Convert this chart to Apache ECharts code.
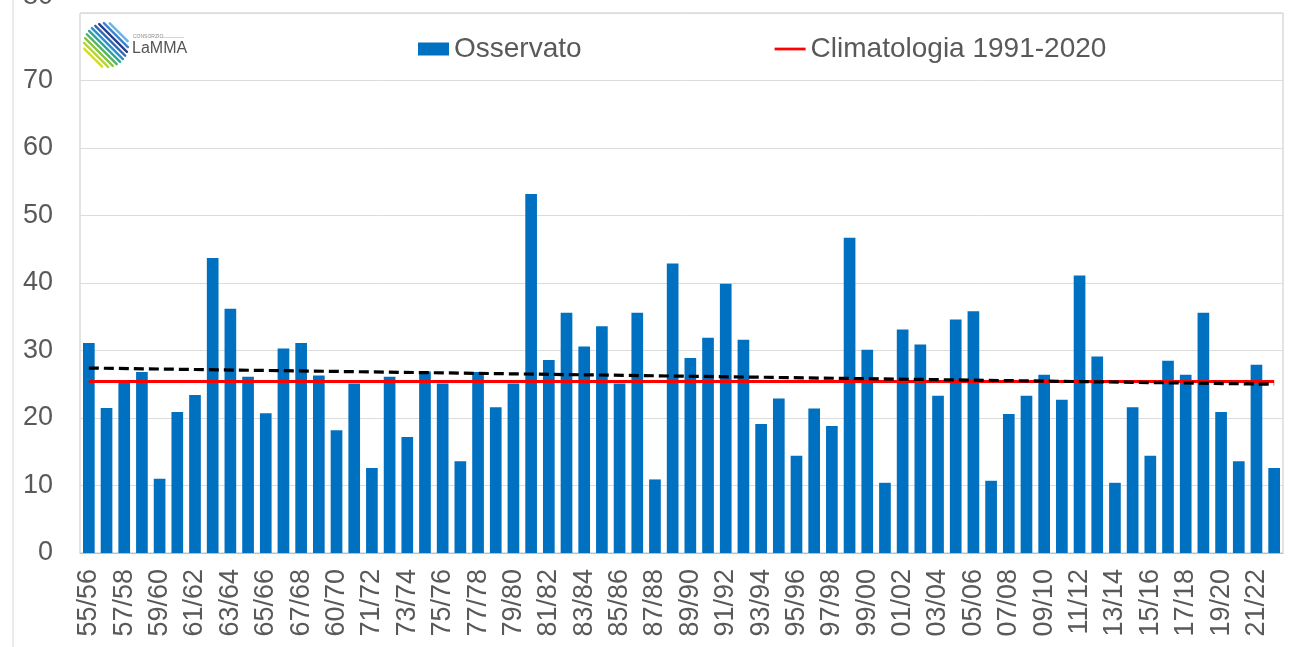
<!DOCTYPE html>
<html>
<head>
<meta charset="utf-8">
<script src="https://cdn.jsdelivr.net/npm/echarts@6/dist/echarts.min.js"></script>
<style>
html,body{margin:0;padding:0;background:#fff;}
#chart{width:1296px;height:647px;}
</style>
</head>
<body>
<div id="chart"></div>
<script>
const categories = ['55/56','56/57','57/58','58/59','59/60','60/61','61/62','62/63','63/64','64/65',
'65/66','66/67','67/68','68/69','60/70','70/71','71/72','72/73','73/74','74/75',
'75/76','76/77','77/78','78/79','79/80','80/81','81/82','82/83','83/84','84/85',
'85/86','86/87','87/88','88/89','89/90','90/91','91/92','92/93','93/94','94/95',
'95/96','96/97','97/98','98/99','99/00','00/01','01/02','02/03','03/04','04/05',
'05/06','06/07','07/08','08/09','09/10','10/11','11/12','12/13','13/14','14/15',
'15/16','16/17','17/18','18/19','19/20','20/21','21/22','22/23'];

const osservato = [31.1,21.5,25.2,26.8,11.0,20.9,23.4,43.7,36.2,26.1,
20.7,30.3,31.1,26.3,18.2,25.1,12.6,26.1,17.2,26.9,
25.1,13.6,26.8,21.6,25.1,53.2,28.6,35.6,30.6,33.6,
25.1,35.6,10.9,42.9,28.9,31.9,39.9,31.6,19.1,22.9,
14.4,21.4,18.8,46.7,30.1,10.4,33.1,30.9,23.3,34.6,
35.8,10.7,20.6,23.3,26.4,22.7,41.1,29.1,10.4,21.6,
14.4,28.5,26.4,35.6,20.9,13.6,27.9,12.6];

const climatologiaValue = 25.4;
const trendStart = 27.4;
const trendEnd = 25.0;

const yTicks = [0,10,20,30,40,50,60,70,80];

const climatologia = categories.map(() => climatologiaValue);
const trend = categories.map((c, i) => i === 0 ? trendStart : (i === categories.length - 1 ? trendEnd : null));

const FONT = 'Liberation Sans, Arial, sans-serif';
const TXT = '#595959';

// logo decoration
const logoChildren = [];
(function(){
  const cx = 106, cy = 45, r = 22;
  const cols = ['#d6dc1e','#b5d334','#86c444','#4fb460','#2ca59a','#2a8fd3','#2f66b0','#283f8c','#3a82d0','#66b6ea'];
  const s = Math.SQRT1_2;
  for (let k = 0; k < 10; k++) {
    const d = -18 + 4 * k;
    const h = Math.sqrt(r * r - d * d);
    const mx = cx + d * s, my = cy - d * s;
    logoChildren.push({
      type: 'line',
      shape: { x1: mx - h * s, y1: my - h * s, x2: mx + h * s, y2: my + h * s },
      style: { stroke: cols[k], lineWidth: 2.4, lineCap: 'round' },
      silent: true
    });
  }
  logoChildren.push({ type: 'text', style: { text: 'CONSORZIO', x: 133, y: 37, font: '5px ' + FONT, fill: '#888', textVerticalAlign: 'middle' }, silent: true });
  logoChildren.push({ type: 'line', shape: { x1: 160, y1: 37.5, x2: 184, y2: 37.5 }, style: { stroke: '#bbb', lineWidth: 0.6 }, silent: true });
  logoChildren.push({ type: 'text', style: { text: 'LaMMA', x: 132, y: 49, font: '16px ' + FONT, fill: '#555', textVerticalAlign: 'middle' }, silent: true });
})();

const chart = echarts.init(document.getElementById('chart'), null, { renderer: 'canvas' });
chart.setOption({
  animation: false,
  backgroundColor: '#ffffff',
  textStyle: { fontFamily: FONT },
  grid: {
    left: 80, right: 13, top: 13, bottom: 94,
    show: true, borderColor: '#c8c8c8', borderWidth: 1, containLabel: false
  },
  legend: {
    data: [
      { name: 'Osservato', icon: 'rect' },
      { name: 'Climatologia 1991-2020', icon: 'path://M0,0H34V3H0Z', itemStyle: { color: '#FF0000' } }
    ],
    left: 418, top: 35, padding: 0,
    itemWidth: 31, itemHeight: 13, itemGap: 193,
    textStyle: { fontSize: 28, color: TXT, fontFamily: FONT }
  },
  graphic: [
    { type: 'line', shape: { x1: 13, y1: 0, x2: 13, y2: 647 }, style: { stroke: '#d6d6d6', lineWidth: 1 }, silent: true },
    { type: 'text', style: { text: String(yTicks[yTicks.length - 1]), x: 53, y: -3, textAlign: 'right', textVerticalAlign: 'middle', font: '27px ' + FONT, fill: TXT }, silent: true },
    { type: 'group', children: logoChildren }
  ],
  xAxis: {
    type: 'category',
    data: categories,
    axisTick: { show: false },
    axisLine: { lineStyle: { color: '#bfbfbf', width: 1 } },
    axisLabel: {
      interval: 1, rotate: 90, fontSize: 27, color: TXT, margin: 16, fontFamily: FONT
    }
  },
  yAxis: {
    type: 'value', min: yTicks[0], max: yTicks[yTicks.length - 1], interval: 10,
    axisLine: { show: false }, axisTick: { show: false },
    splitLine: { lineStyle: { color: '#dcdcdc', width: 1 } },
    axisLabel: { fontSize: 27, color: TXT, margin: 27, fontFamily: FONT, showMaxLabel: false }
  },
  series: [
    {
      name: 'Osservato', type: 'bar', data: osservato,
      barCategoryGap: '34%',
      itemStyle: { color: '#0070C0' }
    },
    {
      name: 'Climatologia 1991-2020', type: 'line', data: climatologia,
      symbol: 'none', lineStyle: { color: '#FF0000', width: 3 },
      itemStyle: { color: '#FF0000' }, z: 3
    },
    {
      name: 'Tendenza', type: 'line', data: trend, connectNulls: true,
      symbol: 'none', lineStyle: { color: '#000000', width: 3.2, type: [10, 5] },
      itemStyle: { color: '#000' }, z: 4
    }
  ]
});
</script>
</body>
</html>
